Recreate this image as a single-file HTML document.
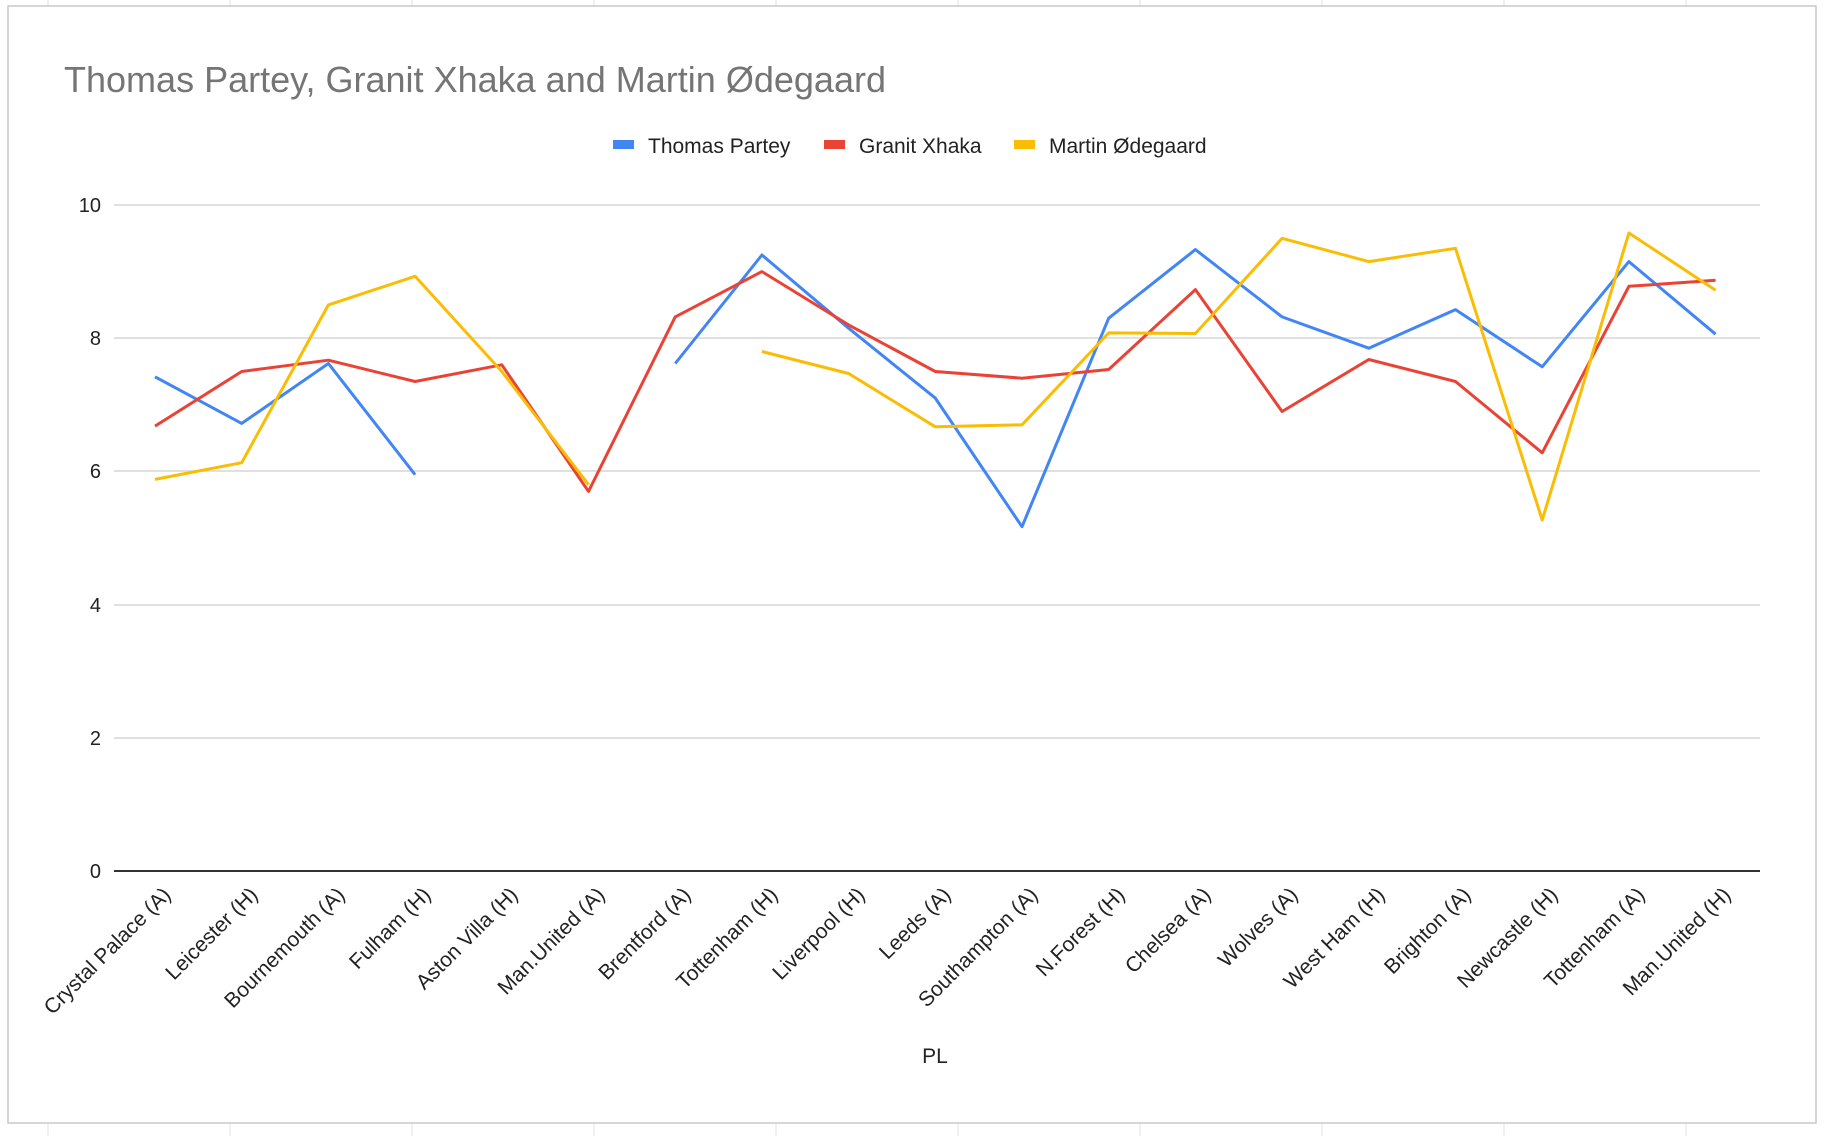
<!DOCTYPE html>
<html><head><meta charset="utf-8"><style>
html,body{margin:0;padding:0;background:#fff;}
body{width:1828px;height:1136px;overflow:hidden;font-family:"Liberation Sans",Arial,sans-serif;}
</style></head><body>
<svg id="s" width="1828" height="1136" xmlns="http://www.w3.org/2000/svg" font-family="Liberation Sans, Arial, sans-serif">
<g stroke="#e2e2e2" stroke-width="1">
<line x1="48" y1="0" x2="48" y2="6"/><line x1="230" y1="0" x2="230" y2="6"/><line x1="412" y1="0" x2="412" y2="6"/><line x1="594" y1="0" x2="594" y2="6"/><line x1="776" y1="0" x2="776" y2="6"/><line x1="958" y1="0" x2="958" y2="6"/><line x1="1140" y1="0" x2="1140" y2="6"/><line x1="1322" y1="0" x2="1322" y2="6"/><line x1="1504" y1="0" x2="1504" y2="6"/><line x1="1686" y1="0" x2="1686" y2="6"/>
<line x1="48" y1="1124" x2="48" y2="1136"/><line x1="230" y1="1124" x2="230" y2="1136"/><line x1="412" y1="1124" x2="412" y2="1136"/><line x1="594" y1="1124" x2="594" y2="1136"/><line x1="776" y1="1124" x2="776" y2="1136"/><line x1="958" y1="1124" x2="958" y2="1136"/><line x1="1140" y1="1124" x2="1140" y2="1136"/><line x1="1322" y1="1124" x2="1322" y2="1136"/><line x1="1504" y1="1124" x2="1504" y2="1136"/><line x1="1686" y1="1124" x2="1686" y2="1136"/>
</g>
<rect x="8" y="6" width="1808" height="1117" fill="#fff" stroke="#c8c8c8" stroke-width="1.5"/>
<text x="64" y="92" font-size="36" fill="#757575" textLength="822" lengthAdjust="spacingAndGlyphs">Thomas Partey, Granit Xhaka and Martin Ødegaard</text>
<rect x="613" y="140" width="21" height="9" fill="#4285f4"/>
<text x="648" y="153" font-size="21" fill="#222">Thomas Partey</text>
<rect x="824" y="140" width="21" height="9" fill="#ea4335"/>
<text x="859" y="153" font-size="21" fill="#222">Granit Xhaka</text>
<rect x="1014" y="140" width="21" height="9" fill="#fbbc04"/>
<text x="1049" y="153" font-size="21" fill="#222">Martin Ødegaard</text>
<g stroke="#d6d6d6" stroke-width="1.5">
<line x1="114" y1="205" x2="1760" y2="205"/><line x1="114" y1="338" x2="1760" y2="338"/><line x1="114" y1="471" x2="1760" y2="471"/><line x1="114" y1="605" x2="1760" y2="605"/><line x1="114" y1="738" x2="1760" y2="738"/>
</g>
<line x1="114" y1="871" x2="1760" y2="871" stroke="#333" stroke-width="2"/>
<g font-size="20" fill="#222" text-anchor="end">
<text x="101" y="212">10</text><text x="101" y="345">8</text><text x="101" y="478">6</text><text x="101" y="612">4</text><text x="101" y="745">2</text><text x="101" y="878">0</text>
</g>
<g id="lines" fill="none" stroke-width="3" stroke-linejoin="round"></g>
<g font-size="21" fill="#222" text-anchor="end">
<text transform="translate(172,896) rotate(-45)">Crystal Palace (A)</text>
<text transform="translate(259,896) rotate(-45)">Leicester (H)</text>
<text transform="translate(346,896) rotate(-45)">Bournemouth (A)</text>
<text transform="translate(432,896) rotate(-45)">Fulham (H)</text>
<text transform="translate(519,896) rotate(-45)">Aston Villa (H)</text>
<text transform="translate(606,896) rotate(-45)">Man.United (A)</text>
<text transform="translate(692,896) rotate(-45)">Brentford (A)</text>
<text transform="translate(779,896) rotate(-45)">Tottenham (H)</text>
<text transform="translate(866,896) rotate(-45)">Liverpool (H)</text>
<text transform="translate(952,896) rotate(-45)">Leeds (A)</text>
<text transform="translate(1039,896) rotate(-45)">Southampton (A)</text>
<text transform="translate(1126,896) rotate(-45)">N.Forest (H)</text>
<text transform="translate(1212,896) rotate(-45)">Chelsea (A)</text>
<text transform="translate(1299,896) rotate(-45)">Wolves (A)</text>
<text transform="translate(1386,896) rotate(-45)">West Ham (H)</text>
<text transform="translate(1472,896) rotate(-45)">Brighton (A)</text>
<text transform="translate(1559,896) rotate(-45)">Newcastle (H)</text>
<text transform="translate(1646,896) rotate(-45)">Tottenham (A)</text>
<text transform="translate(1732,896) rotate(-45)">Man.United (H)</text>
</g>
<text x="935" y="1063" font-size="21" fill="#222" text-anchor="middle">PL</text>
</svg>
<script>
var N=null;
var series=[
["#4285f4",[7.42,6.72,7.62,5.95,N,N,7.62,9.25,8.15,7.1,5.17,8.3,9.33,8.32,7.85,8.43,7.57,9.15,8.06]],
["#ea4335",[6.68,7.5,7.67,7.35,7.6,5.7,8.32,9.0,8.2,7.5,7.4,7.53,8.73,6.9,7.68,7.35,6.28,8.78,8.87]],
["#fbbc04",[5.88,6.13,8.5,8.93,7.5,5.8,N,7.8,7.47,6.67,6.7,8.08,8.07,9.5,9.15,9.35,5.27,9.58,8.72]]];
var g=document.getElementById('lines');
series.forEach(function(s){var segs=[],cur=[];
s[1].forEach(function(v,i){if(v===null){if(cur.length)segs.push(cur);cur=[];}else cur.push((155+86.7*i).toFixed(1)+','+(871-66.6*v).toFixed(1));});
if(cur.length)segs.push(cur);
segs.forEach(function(p){var e=document.createElementNS('http://www.w3.org/2000/svg','polyline');e.setAttribute('points',p.join(' '));e.setAttribute('stroke',s[0]);g.appendChild(e);});});
</script>
</body></html>
